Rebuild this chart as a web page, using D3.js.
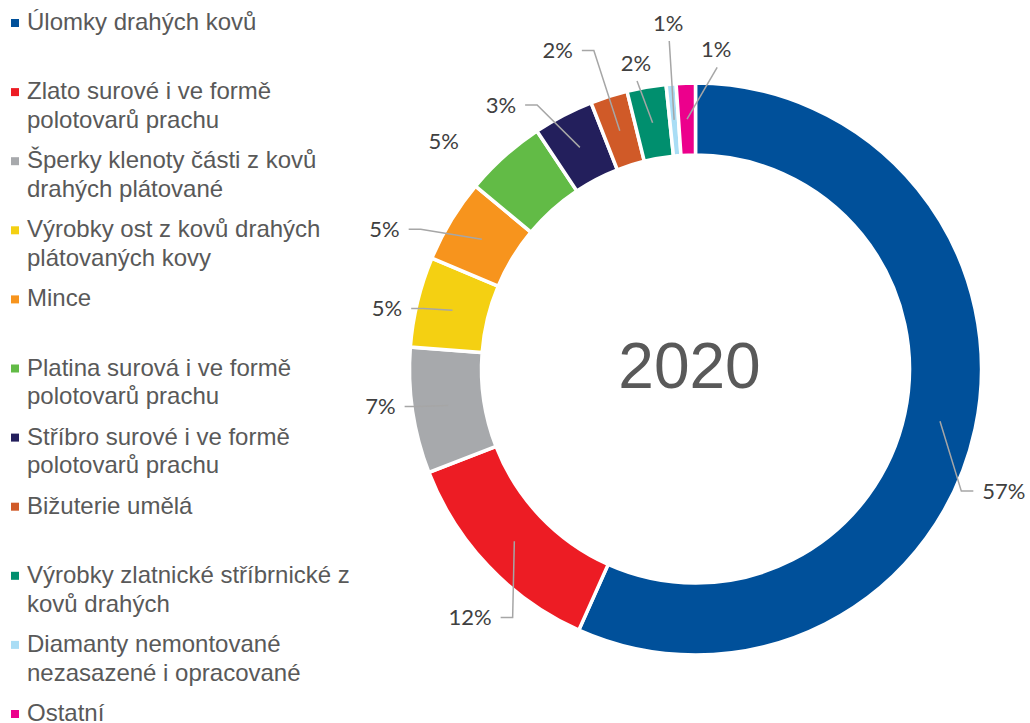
<!DOCTYPE html>
<html>
<head>
<meta charset="utf-8">
<script src="https://cdn.jsdelivr.net/npm/d3@7/dist/d3.min.js"></script>
<style>
  body { margin: 0; background: white; overflow: hidden; }
</style>
</head>
<body>
<script>
const POLICE = '"Liberation Sans", Arial, sans-serif'
const POLICE_ETIQUETTE = 'Lato, "Open Sans", sans-serif'
const COULEUR_TEXTE = '#595959'
const COULEUR_ETIQUETTE = '#404040'
const COULEUR_REPERE = '#A6A6A6'

// Données
const categories = [
  'Úlomky drahých kovů',
  'Zlato surové i ve formě polotovarů prachu',
  'Šperky klenoty části z kovů drahých plátované',
  'Výrobky ost z kovů drahých plátovaných kovy',
  'Mince',
  'Platina surová i ve formě polotovarů prachu',
  'Stříbro surové i ve formě polotovarů prachu',
  'Bižuterie umělá',
  'Výrobky zlatnické stříbrnické z kovů drahých',
  'Diamanty nemontované nezasazené i opracované',
  'Ostatní'
]
const values = [56.6, 12.4, 7.1, 5.1, 4.7, 4.6, 3.4, 2.1, 2.2, 0.56, 1.08]
const labels = ['57%', '12%', '7%', '5%', '5%', '5%', '3%', '2%', '2%', '1%', '1%']
const colors = ['#00509A', '#ED1C24', '#A7A9AC', '#F4D012', '#F7941D', '#62BB46',
  '#231F5C', '#D05A28', '#008F6E', '#A9DDF5', '#EC008C']
const year = '2020'

// Placement des étiquettes (angle en degrés, rayon en px), façon "ajustement optimal"
const labelAngle = [111.6, 222.2, 263.2, 281.1, 294.2, 312.2, 323.6, 336.6, 349.0, 355.5, 3.7]
const labelRadius = [331.7, 335.6, 317.3, 314.4, 341, 339.8, 327.9, 347.1, 311.7, 347.1, 320.2]
const leaderVisible = [true, true, true, true, true, false, true, true, true, true, true]

const width = 1030, height = 723
const cx = 695.5, cy = 369
const R = 286, r = 214

const svg = d3.select('body').append('svg')
  .attr('width', width).attr('height', height)
  .style('display', 'block').style('background', 'white')

// Légende
const LEG_FS = 24, LEG_PAS = 69.1, LEG_INTERLIGNE = 28.8, LEG_MAX = 340
const legende = svg.append('g').attr('font-family', POLICE).attr('font-size', LEG_FS).attr('fill', COULEUR_TEXTE)

categories.forEach((nom, i) => {
  const y0 = 30 + i * LEG_PAS
  legende.append('rect').attr('x', 11).attr('y', y0 - 11).attr('width', 8).attr('height', 8).attr('fill', colors[i])
  const t = legende.append('text').attr('x', 27).attr('y', y0)
  // retour à la ligne
  const mots = nom.split(' ')
  let ligne = [], n = 0
  let ts = t.append('tspan').attr('x', 27).attr('y', y0)
  mots.forEach(m => {
    ligne.push(m)
    ts.text(ligne.join(' '))
    if (ts.node().getComputedTextLength() > LEG_MAX && ligne.length > 1) {
      ligne.pop()
      ts.text(ligne.join(' '))
      ligne = [m]
      n++
      ts = t.append('tspan').attr('x', 27).attr('y', y0 + n * LEG_INTERLIGNE).text(m)
    }
  })
})

// Anneau
const pie = d3.pie().sort(null).value(d => d)
const arcs = pie(values)
const arc = d3.arc().innerRadius(r).outerRadius(R)
const arcMilieu = d3.arc().innerRadius((r + R) / 2).outerRadius((r + R) / 2)

const g = svg.append('g').attr('transform', `translate(${cx},${cy})`)
g.selectAll('path.part').data(arcs).join('path')
  .attr('class', 'part')
  .attr('d', arc)
  .attr('fill', (d, i) => colors[i])
  .attr('stroke', 'white').attr('stroke-width', 3.5).attr('stroke-linejoin', 'miter')

// Titre central
svg.append('text').text(year)
  .attr('x', cx - 6).attr('y', cy + 19)
  .attr('text-anchor', 'middle')
  .attr('font-family', POLICE).attr('font-size', 64).attr('fill', COULEUR_TEXTE)

// Étiquettes de données + lignes de repère
const ETQ_FS = 22
const rad = a => a * Math.PI / 180
const etiquettes = g.append('g')
const reperes = g.append('g')

arcs.forEach((d, i) => {
  const a = rad(labelAngle[i])
  const lx = Math.sin(a) * labelRadius[i]
  const ly = -Math.cos(a) * labelRadius[i]
  const t = etiquettes.append('text').text(labels[i])
    .attr('x', lx).attr('y', ly + 0.358 * ETQ_FS)
    .attr('text-anchor', 'middle')
    .attr('font-family', POLICE_ETIQUETTE).attr('font-size', ETQ_FS).attr('fill', COULEUR_ETIQUETTE)
  if (!leaderVisible[i]) return
  const w = t.node().getComputedTextLength()
  const [px, py] = arcMilieu.centroid(d)
  const gauche = lx - w / 2, droite = lx + w / 2
  let pts
  if (px > droite + 18) {
    pts = [[px, py], [droite + 21, ly], [droite + 9, ly]]
  } else if (px < gauche - 18) {
    pts = [[px, py], [gauche - 21, ly], [gauche - 9, ly]]
  } else if (py > ly) {
    pts = [[px, py], [lx + 1, ly + 18]]
  } else {
    pts = [[px, py], [lx + 1, ly - 18]]
  }
  reperes.append('path')
    .attr('d', d3.line()(pts))
    .attr('fill', 'none').attr('stroke', COULEUR_REPERE).attr('stroke-width', 1.5)
})
</script>
</body>
</html>
